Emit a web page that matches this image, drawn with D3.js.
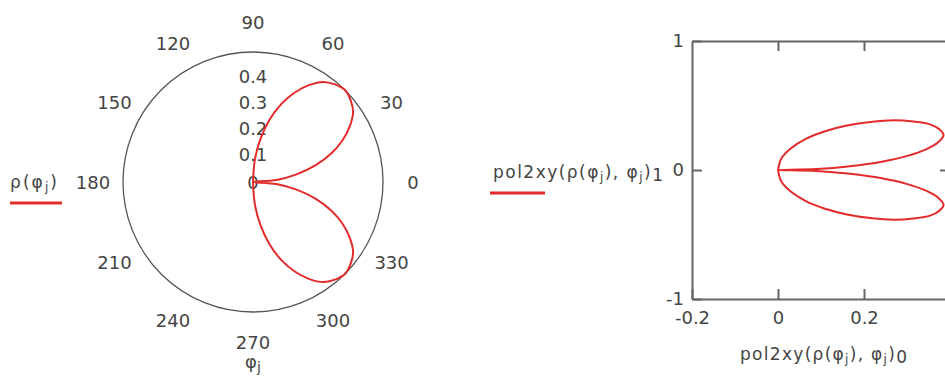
<!DOCTYPE html>
<html>
<head>
<meta charset="utf-8">
<title>Polar plot and pol2xy plot</title>
<script type="text/javascript" src="https://cdn.jsdelivr.net/npm/d3@7"></script>
<style>
  body { margin: 0; background: #fff; }
  text { font-family: "DejaVu Sans", sans-serif; fill: #444; }
  .axis path, .axis line { stroke: #666; stroke-width: 2; }
  .axis text { font-size: 18px; fill: #444; font-family: "DejaVu Sans", sans-serif; }
</style>
</head>
<body>
<div id="chart"></div>

<script type="text/javascript">
// angle phi_j in degrees, radius rho(phi_j)
var phiDeg = [-90, -85, -80, -75, -70, -65, -60, -55, -50, -45, -40, -35, -30, -25, -20, -15, -10, -5,
              0, 5, 10, 15, 20, 25, 30, 35, 40, 45, 50, 55, 60, 65, 70, 75, 80, 85, 90];
var rho = [0, 0.09, 0.17, 0.25, 0.32, 0.38, 0.43, 0.47, 0.49, 0.5, 0.49, 0.47, 0.43, 0.38, 0.32, 0.25, 0.17, 0.09,
           0, 0.09, 0.17, 0.25, 0.32, 0.38, 0.43, 0.47, 0.49, 0.5, 0.49, 0.47, 0.43, 0.38, 0.32, 0.25, 0.17, 0.09, 0];

var angleLabels = [0, 30, 60, 90, 120, 150, 180, 210, 240, 270, 300, 330];
var radiusLabels = [0, 0.1, 0.2, 0.3, 0.4];
var xTicks = [-0.2, 0, 0.2];
var yTicks = [-1, 0, 1];

var red = "#e32b2b";

var svg = d3.select("#chart").append("svg")
            .attr("width", 945)
            .attr("height", 381);

var points = phiDeg.map(function(d, i) {
    var a = d * Math.PI / 180;
    return { phi: a, r: rho[i], x: rho[i] * Math.cos(a), y: rho[i] * Math.sin(a) };
});

///////////////////////////// polar plot /////////////////////////////
var cx = 253, cy = 182;
var rScale = d3.scaleLinear().domain([0, 0.5]).range([0, 130]);

var polar = svg.append("g").attr("transform", "translate(" + cx + "," + cy + ")");

polar.append("circle")
     .attr("r", rScale(0.5))
     .attr("fill", "none")
     .attr("stroke", "#555")
     .attr("stroke-width", 1.3);

polar.selectAll(".alabel")
     .data(angleLabels)
    .enter().append("text")
     .attr("class", "alabel")
     .attr("x", function(d) { return 160 * Math.cos(d * Math.PI / 180); })
     .attr("y", function(d) { return -160 * Math.sin(d * Math.PI / 180); })
     .attr("text-anchor", "middle")
     .attr("dominant-baseline", "central")
     .style("font-size", "18px")
     .text(function(d) { return d; });

polar.selectAll(".rlabel")
     .data(radiusLabels)
    .enter().append("text")
     .attr("class", "rlabel")
     .attr("x", 0)
     .attr("y", function(d) { return -rScale(d) - (d > 0 ? 2 : 0); })
     .attr("text-anchor", "middle")
     .attr("dominant-baseline", "central")
     .style("font-size", "18px")
     .text(function(d) { return d; });

var radial = d3.lineRadial()
               .angle(function(d) { return Math.PI / 2 - d.phi; })
               .radius(function(d) { return rScale(d.r); })
               .curve(d3.curveCatmullRom);

polar.append("path")
     .attr("d", radial(points))
     .attr("fill", "none")
     .attr("stroke", red)
     .attr("stroke-width", 2);

// phi_j under the circle
var phiLab = svg.append("text")
                .attr("x", 253).attr("y", 368)
                .attr("text-anchor", "middle")
                .style("font-size", "18px");
phiLab.append("tspan").text("φ");
phiLab.append("tspan").attr("dy", 4).style("font-size", "14px").text("j");

// legend rho(phi_j)
var legL = svg.append("text").attr("x", 10).attr("y", 188).style("font-size", "17px")
              .attr("textLength", 47).attr("lengthAdjust", "spacing");
legL.append("tspan").text("ρ(φ");
legL.append("tspan").attr("dy", 3).style("font-size", "12px").text("j");
legL.append("tspan").attr("dy", -3).text(")");
svg.append("line")
   .attr("x1", 10).attr("x2", 62).attr("y1", 203).attr("y2", 203)
   .attr("stroke", red).attr("stroke-width", 3);

///////////////////////////// x-y plot /////////////////////////////
var x = d3.scaleLinear().domain([-0.2, 0.4]).range([692, 950]);
var y = d3.scaleLinear().domain([-1, 1]).range([299, 41]);
var fmt = function(d) { return String(d); };

svg.append("g").attr("class", "axis")
   .attr("transform", "translate(0,299)")
   .call(d3.axisBottom(x).tickValues(xTicks).tickSizeInner(-10).tickSizeOuter(0)
           .tickPadding(12).tickFormat(fmt));
svg.append("g").attr("class", "axis")
   .attr("transform", "translate(0,41)")
   .call(d3.axisTop(x).tickValues([0, 0.2]).tickSizeInner(-10).tickSizeOuter(0).tickFormat(""));
svg.append("g").attr("class", "axis")
   .attr("transform", "translate(692,0)")
   .call(d3.axisLeft(y).tickValues(yTicks).tickSizeInner(-10).tickSizeOuter(0)
           .tickPadding(8).tickFormat(fmt));
svg.append("g").attr("class", "axis")
   .attr("transform", "translate(950,0)")
   .call(d3.axisRight(y).tickValues([0]).tickSizeInner(-10).tickSizeOuter(0).tickFormat(""));

var line = d3.line()
             .x(function(d) { return x(d.x); })
             .y(function(d) { return y(d.y); })
             .curve(d3.curveCatmullRom);

svg.append("path")
   .attr("d", line(points))
   .attr("fill", "none")
   .attr("stroke", red)
   .attr("stroke-width", 2);

// axis titles
function pol2xyLabel(g, sub) {
    g.append("tspan").text("pol2xy(ρ(φ");
    g.append("tspan").attr("dy", 3).style("font-size", "12px").text("j");
    g.append("tspan").attr("dy", -3).text("), φ");
    g.append("tspan").attr("dy", 3).style("font-size", "12px").text("j");
    g.append("tspan").attr("dy", -3).text(")");
    g.append("tspan").attr("dy", 3).text(sub);
}

var yTitle = svg.append("text").attr("x", 493).attr("y", 178).style("font-size", "17px")
                .attr("textLength", 170).attr("lengthAdjust", "spacing");
pol2xyLabel(yTitle, "1");
svg.append("line")
   .attr("x1", 490).attr("x2", 545).attr("y1", 193).attr("y2", 193)
   .attr("stroke", red).attr("stroke-width", 3);

var xTitle = svg.append("text").attr("x", 740).attr("y", 360).style("font-size", "17px")
                .attr("textLength", 167).attr("lengthAdjust", "spacing");
pol2xyLabel(xTitle, "0");
</script>
</body>
</html>
